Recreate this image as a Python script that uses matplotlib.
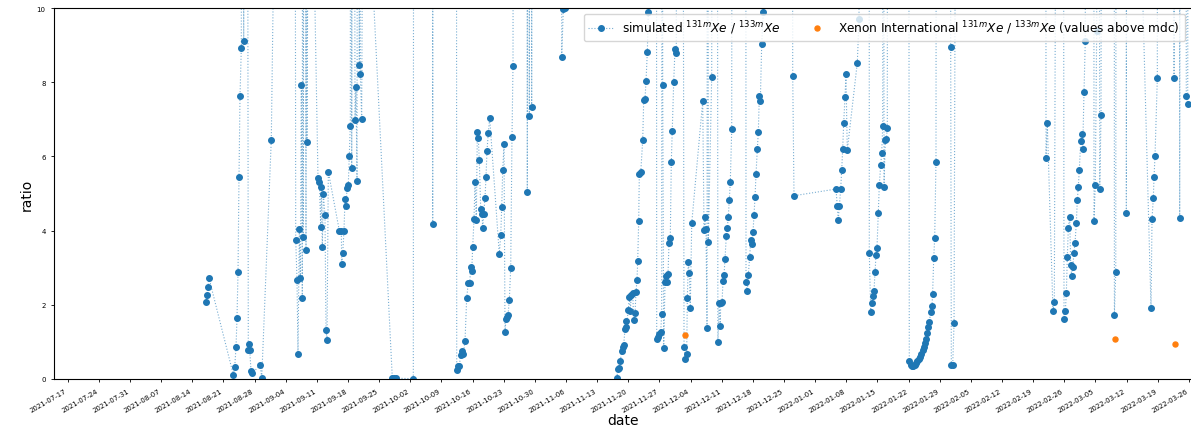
import matplotlib
matplotlib.use("Agg")
import matplotlib.pyplot as plt
import matplotlib.dates as mdates
import numpy as np
import pandas as pd

# sample times are stored as days after t0, ratios as 131mXe/133mXe
# values far above the axis limit (40 etc.) are spikes that run off the top
t0 = pd.Timestamp("2021-07-17")

sim_day = [
    31.02, 31.31, 31.54, 31.76,
    37.22, 37.54, 37.83, 38.05, 38.28, 38.50, 38.73, 39.02, 39.24, 39.56, 39.85, 40.19,
    40.59, 40.75, 40.91, 41.20, 41.49, 43.29, 43.61, 45.76, 46.59,
    50.87, 51.25, 51.54, 51.76, 52.06, 52.28, 52.51, 52.73, 52.84, 52.96, 53.25, 53.56,
    53.67, 53.79, 54.24,
    56.26, 56.55, 56.87, 57.00, 57.23, 57.45, 57.83, 58.06, 58.28, 58.58,
    61.05, 61.50, 61.59, 61.81, 62.10, 62.33, 62.55, 62.78, 63.07, 63.30, 63.52, 63.68,
    63.84, 64.13, 64.58, 64.80, 65.03, 65.25, 65.54, 65.66, 65.77, 66.08, 66.37,
    72.96, 73.23, 73.57, 73.86, 77.68, 77.84,
    81.88, 82.04, 82.22,
    87.28, 87.44, 87.73, 88.02, 88.34, 88.70, 88.92, 89.30, 89.68, 90.04, 90.36, 90.58,
    90.81, 91.03, 91.32, 91.55, 91.84, 92.07, 92.29, 92.51, 92.83, 93.12, 93.28, 93.50,
    93.79, 94.02, 94.24, 94.54, 94.85,
    97.01, 97.33, 97.55, 97.78, 98.07, 98.29, 98.52, 98.74, 98.97, 99.26, 99.57, 99.86,
    100.09, 100.31,
    103.23, 103.30, 103.46, 103.75, 104.02, 104.29, 104.59,
    110.88, 111.04, 111.40, 111.85, 117.00,
    123.40, 123.69, 123.92, 124.21, 124.52, 124.75, 124.97, 125.27, 125.42, 125.56,
    126.00, 126.23, 126.45, 126.68, 126.99, 127.22, 127.51, 127.74, 127.96, 128.12,
    128.34, 128.48, 128.80, 129.24, 129.47, 129.76, 129.99, 130.28, 130.50, 130.66,
    132.23, 132.39, 132.75, 132.97, 133.29, 133.51, 133.62, 133.74, 133.96, 134.26,
    134.48, 134.77, 134.93, 135.15, 135.44, 135.67, 135.89, 136.21, 136.50, 136.79, 137.06,
    137.96, 138.53, 138.82, 139.13, 139.27, 139.49, 139.72, 139.94, 140.26, 142.73,
    143.02, 143.25, 143.47, 143.70, 143.85, 143.99, 144.75, 145.05, 145.85,
    146.14, 146.44, 146.66, 146.78, 147.07, 147.29, 147.52, 147.74, 148.03, 148.26,
    148.48, 148.71, 148.93, 149.25, 149.43,
    152.35, 152.46, 152.75, 152.98, 153.29, 153.52, 153.81, 154.04, 154.26, 154.49,
    154.71, 155.00, 155.23, 155.45, 155.68, 155.99, 156.35, 156.51,
    162.69, 162.96, 163.25,
    172.69, 172.98, 173.20, 173.43, 173.74, 173.97, 174.19, 174.42, 174.71, 174.93,
    175.22, 177.48, 177.86, 178.10,
    180.11, 180.17, 180.49, 180.71, 180.94, 181.23, 181.45, 181.68, 181.90, 182.20,
    182.42, 182.74, 182.96, 183.19, 183.34, 183.48, 183.77, 184.00, 184.22, 184.38,
    188.87, 189.16, 189.47, 189.76, 190.06, 190.37, 190.67, 190.96, 191.28, 191.57,
    191.86, 192.18, 192.47, 192.69, 192.88, 193.07, 193.36, 193.66, 193.97, 194.26,
    194.40, 194.65, 194.87, 195.16, 195.39,
    198.31, 198.47, 198.61, 198.92, 199.22, 200.22,
    219.78, 219.89, 220.18, 221.46, 221.76, 222.81,
    223.60, 223.94, 224.23, 224.46, 224.68, 224.91, 225.22, 225.44, 225.67, 225.89,
    226.18, 226.41, 226.70, 226.93, 227.15, 227.38, 227.69, 227.91, 228.14, 228.43,
    228.72, 228.88,
    230.57, 230.68, 230.97, 231.28, 231.59, 231.97, 232.26, 232.49,
    235.19, 235.26, 235.57, 235.75,
    237.88, 237.95, 238.11, 241.24, 243.49, 243.72, 244.01, 244.17, 244.39, 244.91, 245.07,
    248.56, 248.67, 248.89, 249.79, 249.94, 250.23, 251.24, 251.42, 251.74, 252.03,
]

sim_ratio = [
    2.07, 2.26, 2.49, 2.72,
    0.12, 0.33, 0.85, 1.64, 2.88, 5.44, 7.64, 8.91, 40, 9.10, 40, 40,
    0.77, 0.94, 0.79, 0.22, 0.16, 0.37, 0.02, 6.45, 14,
    40, 3.75, 2.67, 0.68, 4.04, 2.71, 7.92, 2.18, 40, 3.83, 40, 3.47,
    40, 6.38, 19,
    5.42, 5.32, 4.09, 5.18, 3.55, 5.00, 4.42, 1.33, 1.05, 5.59,
    4.00, 4.00, 3.10, 3.39, 4.00, 4.85, 4.67, 5.14, 5.24, 6.02, 6.83, 40,
    5.69, 40, 6.99, 7.86, 5.33, 40, 8.47, 40, 8.22, 7.01, 16,
    0.03, 0.02, 0.01, 0.02, 0.01, 40,
    40, 4.19, 40,
    40, 0.25, 0.35, 0.36, 0.65, 0.76, 0.67, 1.02, 2.18, 2.60, 2.58, 3.03,
    2.91, 3.56, 4.31, 5.30, 4.29, 6.66, 6.49, 5.91, 4.58, 4.46, 4.08, 4.44,
    4.88, 5.44, 6.15, 6.64, 7.03,
    3.37, 3.88, 4.63, 5.64, 6.33, 1.28, 1.62, 1.66, 1.72, 2.14, 2.98, 6.51,
    8.45, 40,
    40, 5.04, 40, 7.08, 40, 7.32, 40,
    40, 8.69, 9.97, 10.0, np.nan,
    0.03, 0.27, 0.30, 0.49, 0.76, 0.85, 0.92, 1.35, 1.57, 1.39,
    1.87, 2.22, 1.84, 2.26, 2.32, 1.60, 1.78, 2.34, 2.68, 3.19,
    4.27, 5.53, 5.57, 6.43, 7.53, 7.55, 8.04, 8.82, 9.88, 40,
    40, 1.07, 1.12, 1.21, 1.28, 1.74, 40, 7.93, 0.83, 2.62,
    2.78, 2.62, 2.83, 3.66, 3.79, 5.84, 6.69, 8.01, 8.89, 8.78, 40,
    40, 0.87, 0.54, 0.67, 2.18, 3.16, 2.86, 1.91, 4.20, 7.49,
    4.02, 4.37, 4.04, 1.37, 40, 3.68, 8.15, 40, 40,
    1.00, 2.05, 1.42, 2.05, 2.07, 2.63, 2.81, 3.23, 3.85, 4.08,
    4.36, 4.82, 5.31, 6.73, 40,
    40, 2.62, 2.36, 2.81, 3.30, 3.75, 3.64, 3.97, 4.41, 4.91,
    5.52, 6.19, 6.66, 7.62, 7.50, 9.03, 9.88, 40,
    40, 8.18, 4.94,
    5.12, 4.65, 4.29, 4.65, 5.12, 5.63, 6.20, 6.90, 7.61, 8.21,
    6.16, 8.53, 9.70, 40,
    40, 3.39, 1.81, 2.04, 2.24, 2.38, 2.88, 3.35, 3.53, 4.47,
    5.22, 5.78, 6.09, 6.82, 40, 5.18, 6.44, 6.47, 6.76, 40,
    40, 0.48, 0.39, 0.34, 0.36, 0.39, 0.43, 0.48, 0.54, 0.60,
    0.68, 0.77, 0.87, 0.97, 1.08, 1.23, 1.39, 1.54, 1.80, 1.96,
    2.29, 3.25, 3.80, 5.85, 40,
    40, 8.96, 0.38, 0.38, 1.51, 40,
    40, 5.97, 6.91, 1.82, 2.08, 40,
    40, 1.62, 1.82, 2.31, 3.29, 4.08, 4.37, 3.08, 2.78, 3.01,
    3.40, 3.66, 4.20, 4.82, 5.18, 5.64, 6.42, 6.60, 6.20, 7.73,
    9.12, 40,
    40, 4.27, 5.24, 9.39, 40, 5.12, 7.11, 40,
    40, 1.72, 2.88, 40,
    40, 4.48, 40, 12, 1.92, 4.32, 4.87, 5.44, 6.01, 8.10, 40,
    40, 8.12, 40, 40, 4.33, 40, 40, 7.62, 7.42, 40,
]

# Xenon International measurements above the minimum detectable concentration
xi_day = [138.75, 235.40, 248.89]
xi_ratio = [1.19, 1.09, 0.93]

tick_dates = pd.date_range("2021-07-17", "2022-03-26", freq="7D")

sim_t = t0 + pd.to_timedelta(sim_day, unit="D")
xi_t = t0 + pd.to_timedelta(xi_day, unit="D")

fig = plt.figure(figsize=(11.91, 4.31), dpi=100)
ax = fig.add_axes([54 / 1191, 51 / 431, 1137 / 1191, 371 / 431])

blue = "#1f77b4"
ax.plot(sim_t, sim_ratio, linestyle=":", linewidth=0.8,
        color=(0.12, 0.47, 0.71, 0.6), marker="o", markersize=4.0,
        markerfacecolor=blue, markeredgecolor=blue,
        label=r"simulated $^{131m}Xe$ / $^{133m}Xe$")
ax.plot(xi_t, xi_ratio, linestyle="none", marker="o", markersize=3.6,
        color="#ff7f0e",
        label=r"Xenon International $^{131m}Xe$ / $^{133m}Xe$ (values above mdc)")

ax.set_ylim(0, 10)
ax.set_xlim(t0 - pd.Timedelta(days=3.08), t0 + pd.Timedelta(days=252.48))
ax.set_xticks(tick_dates)
ax.xaxis.set_major_formatter(mdates.DateFormatter("%Y-%m-%d"))
ax.set_yticks([0, 2, 4, 6, 8, 10])
ax.tick_params(axis="both", labelsize=5, length=2.5, width=0.6)
plt.setp(ax.get_xticklabels(), rotation=30, ha="right")
ax.spines["right"].set_visible(False)

ax.set_xlabel("date", fontsize=10, labelpad=0)
ax.set_ylabel("ratio", fontsize=10, labelpad=2)
ax.legend(loc="upper right", ncol=2, fontsize=8.7)

fig.savefig("out.png", dpi=100)
